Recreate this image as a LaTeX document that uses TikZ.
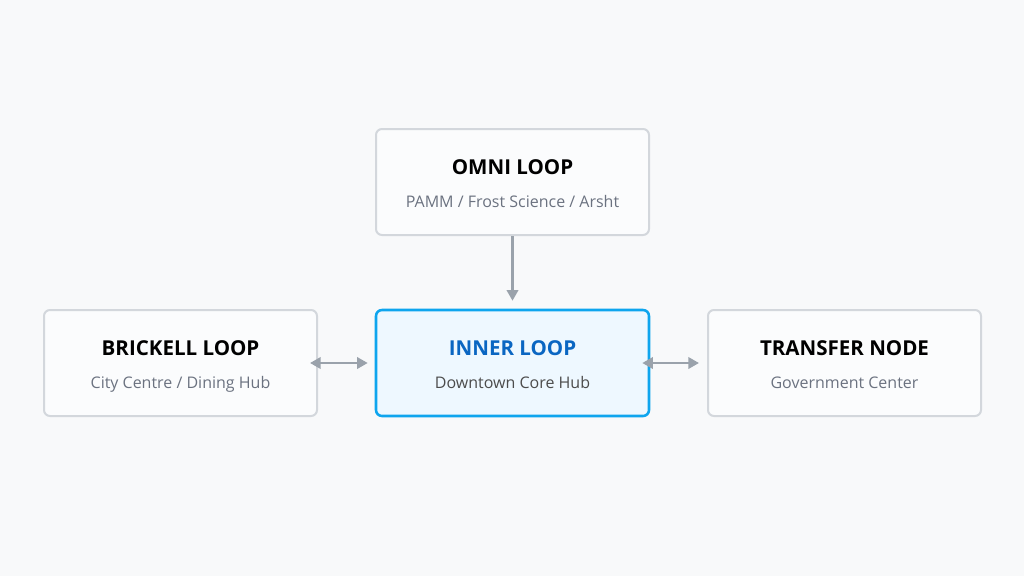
\documentclass[tikz,border=0pt]{standalone}
\usepackage{fontspec}
\setmainfont{Open Sans}
\usetikzlibrary{arrows.meta}
\definecolor{bg}{HTML}{F8F9FA}
\definecolor{boxfill}{HTML}{FBFCFD}
\definecolor{boxline}{HTML}{D3D7DC}
\definecolor{hubfill}{HTML}{EEF8FF}
\definecolor{hubline}{HTML}{0EA5EE}
\definecolor{hubtext}{HTML}{0A66C2}
\definecolor{subtext}{HTML}{6B7280}
\definecolor{arrowc}{HTML}{9AA2AB}
\tikzset{
  box/.style={draw=boxline, fill=boxfill, line width=1.5pt, rounded corners=4.5pt,
    minimum width=204.75pt, minimum height=79.5pt, inner sep=0pt},
  hub/.style={box, draw=hubline, fill=hubfill, line width=1.9pt},
  ttl/.style={font=\fontsize{15.4}{18}\selectfont\bfseries, text=black, inner sep=0pt, anchor=base},
  sub/.style={font=\fontsize{12}{14}\selectfont, text=subtext, inner sep=0pt, anchor=base},
  tip/.style={Triangle[length=8pt,width=8.5pt]},
  conn/.style={draw=arrowc, line width=1.9pt, -{Triangle[length=8pt,width=8.5pt]}},
  conn2/.style={draw=arrowc, line width=1.9pt, {Triangle[length=8pt,width=8.5pt]}-{Triangle[length=8pt,width=8.5pt]}},
}
\begin{document}
\begin{tikzpicture}[x=0.75pt,y=-0.75pt]
\path[fill=bg] (0,0) rectangle (1024,576);
\useasboundingbox (0,0) rectangle (1024,576);
\node[box] (omni) at (512.5,182) {};
\node[hub] (inner) at (512.5,363) {};
\node[box] (brick) at (180.5,363) {};
\node[box] (trans) at (844.5,363) {};
\node[ttl] (omniT) at (512.5,174) {OMNI LOOP};
\node[sub] (omniS) at (512.5,207) {PAMM / Frost Science / Arsht};
\node[ttl, text=hubtext] (innerT) at (512.5,355) {INNER LOOP};
\node[sub, text=black!70] (innerS) at (512.5,388) {Downtown Core Hub};
\node[ttl] (brickT) at (180.5,355) {BRICKELL LOOP};
\node[sub] (brickS) at (180.5,388) {City Centre / Dining Hub};
\node[ttl] (transT) at (844.5,355) {TRANSFER NODE};
\node[sub] (transS) at (844.5,388) {Government Center};
\draw[conn] (omni.south) -- ([yshift=6pt]inner.north);
\draw[conn2] ([xshift=-6pt]brick.east) -- ([xshift=-5.25pt]inner.west);
\draw[conn2] ([xshift=-6pt]inner.east) -- ([xshift=-6pt]trans.west);
\end{tikzpicture}
\end{document}
